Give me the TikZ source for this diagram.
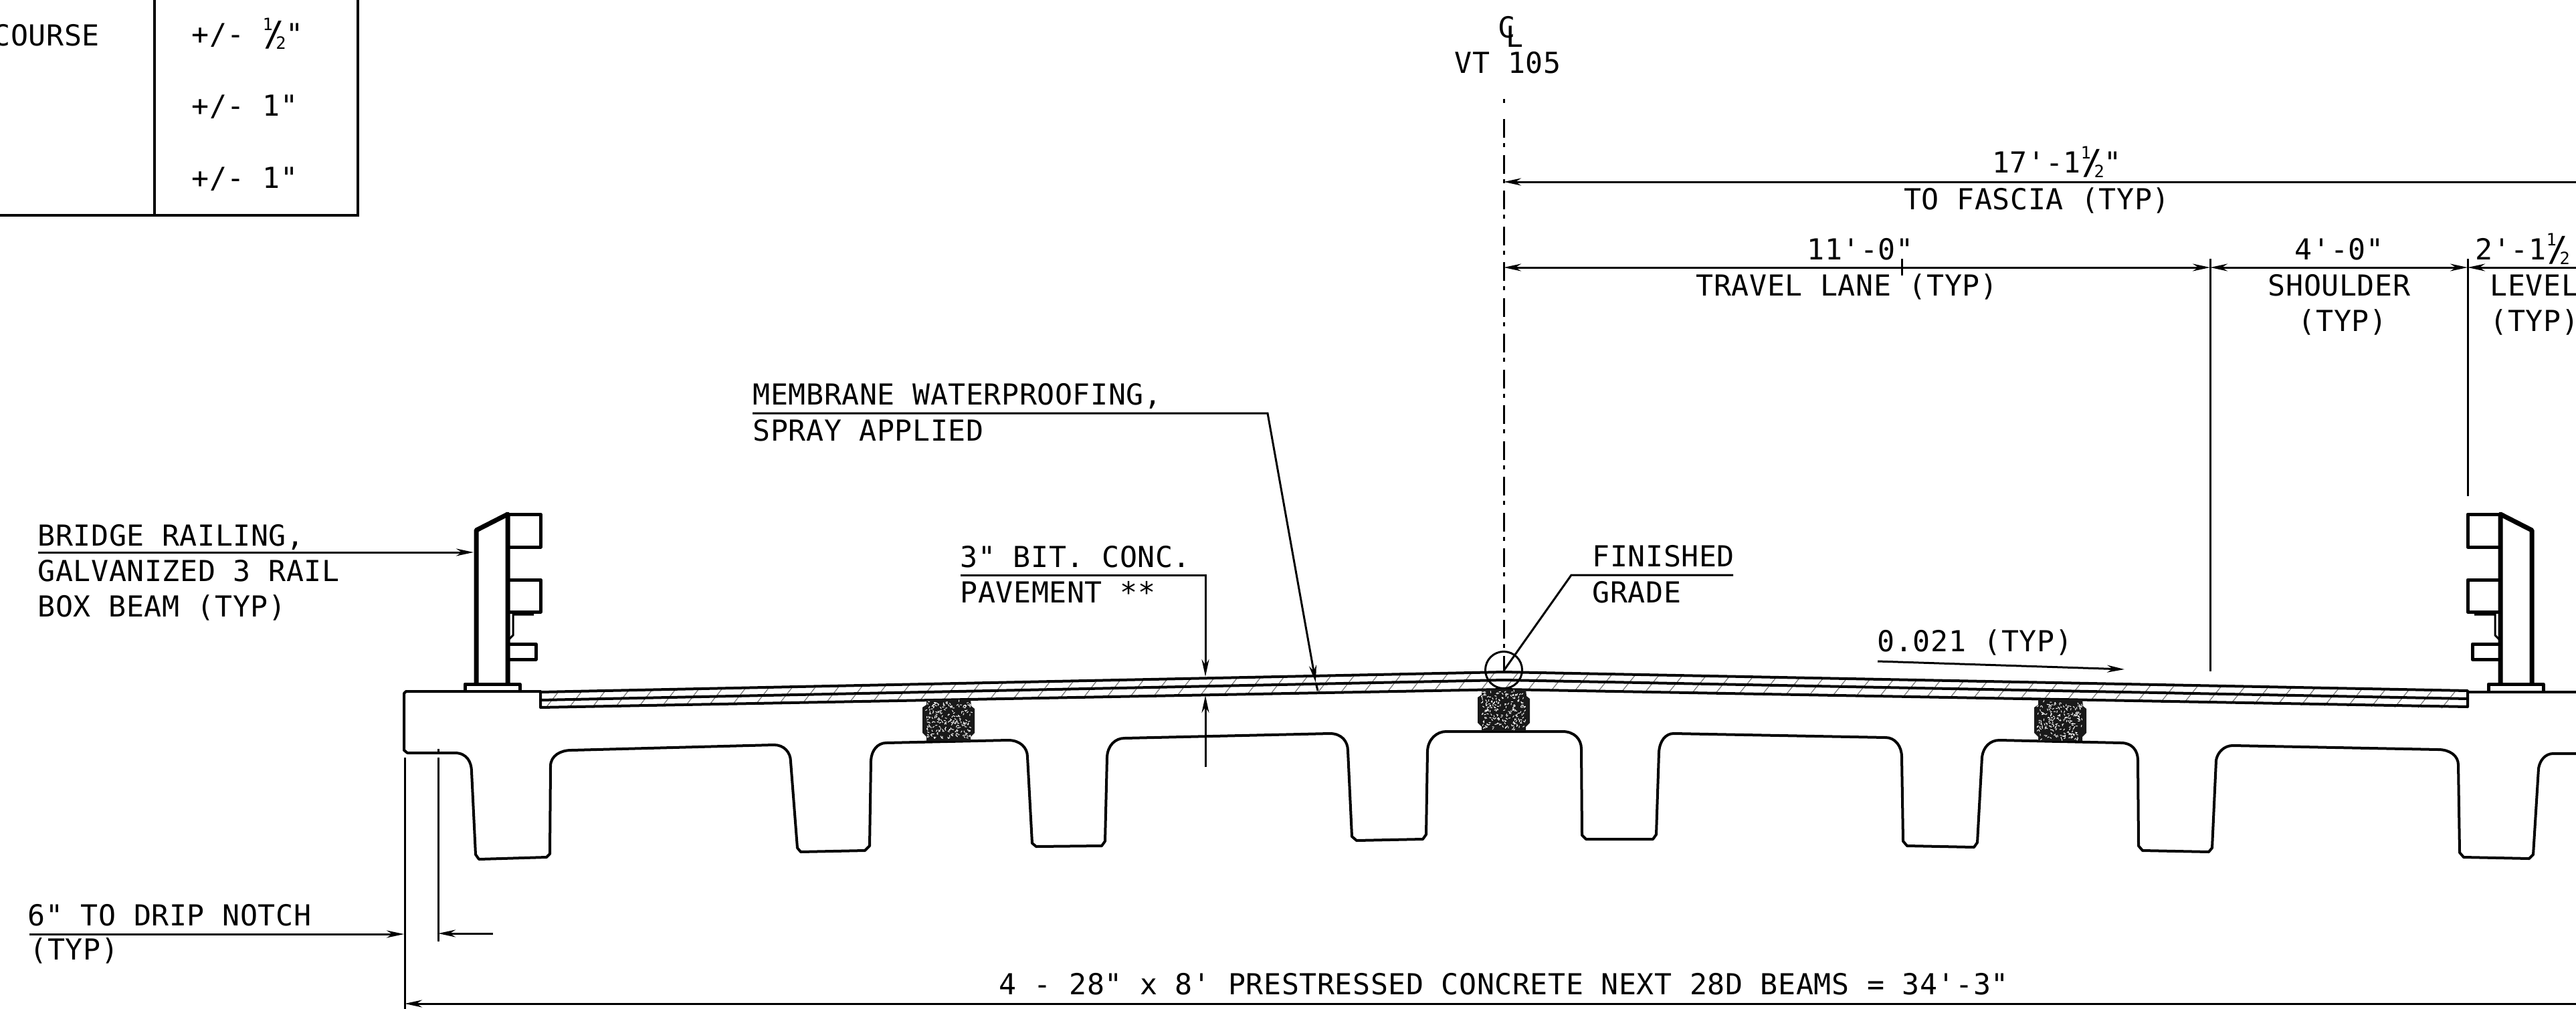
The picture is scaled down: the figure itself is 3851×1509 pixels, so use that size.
\documentclass[tikz,border=0pt]{standalone}
\usepackage{fontspec}
\setmonofont[LetterSpace=1.3]{DejaVu Sans Mono}
\usetikzlibrary{arrows.meta}
\tikzset{
  note/.style={inner sep=0pt,anchor=base west,font=\ttfamily\fontsize{12.3}{15}\selectfont},
  notemid/.style={note,anchor=base},
  thinline/.style={line width=0.03cm},
  leader/.style={line width=0.03cm,-{Stealth[length=0.26cm,width=0.11cm]}},
  dimline/.style={line width=0.03cm,{Stealth[length=0.26cm,width=0.11cm]}-{Stealth[length=0.26cm,width=0.11cm]}},
  leftdim/.style={line width=0.03cm,{Stealth[length=0.26cm,width=0.11cm]}-},
  beamline/.style={line width=0.04cm,line join=round},
  layerline/.style={line width=0.04cm,line join=round},
  railline/.style={line width=0.05cm,line join=round},
  postline/.style={line width=0.07cm,line join=round},
  hatchline/.style={line width=0.012cm,black!55},
  declare function={topy(\x)=1005+0.0208*abs(\x-2248);}
}
% stacked one half, as large as the line of text
\newcommand{\halfmark}{\hbox to 10pt{%
  \rlap{\raisebox{5.7pt}{\fontsize{7.2}{8}\selectfont 1}}\hfil
  \raisebox{-0.7pt}{\fontsize{14.5}{15}\selectfont /}\hfil
  \llap{\raisebox{-2pt}{\fontsize{7.2}{8}\selectfont 2}}}}
% one railing post, drawn at the left fascia
\newcommand{\bridgerail}{%
  \draw[railline] (695,1034) -- (695,1023) -- (777,1023) -- (777,1034);
  \draw[postline] (712,1023) -- (712,793) -- (759,769) -- (759,1023);
  \draw[railline] (759,769) -- (808,769) -- (808,818) -- (759,818);
  \draw[railline] (759,867) -- (808,867) -- (808,915) -- (759,915);
  \draw[thinline] (798,919) -- (767,919) -- (767,950) -- (761,956);
  \draw[railline] (759,963) -- (801,963) -- (801,986) -- (759,986);
}
% stippled block between two beams
\newcommand{\keyblock}[2]{%
  \begin{scope}[shift={(#1,#2)}]
    \path[fill=black!90] (-33,0) -- (33,0) -- (34,10) -- (39,14) -- (39,50) -- (33,56) -- (33,62) -- (-33,62) -- (-33,56) -- (-39,50) -- (-39,12) -- (-33,8) -- cycle;
    \foreach \i in {1,...,200}{
      \pgfmathsetmacro{\px}{-33+rnd*66}
      \pgfmathsetmacro{\py}{3+rnd*56}
      \pgfmathsetmacro{\pa}{rnd*360}
      \draw[white,line width=0.01cm] (\px,\py) -- ++(\pa:3);
    }
  \end{scope}
}
\begin{document}
\begin{tikzpicture}[x=0.01cm,y=-0.01cm]
  \pgfmathsetseed{105}
  \useasboundingbox[fill=white] (0,0) rectangle (3851,1509);

  % tolerance table
  \draw[line width=0.04cm] (231,0) -- (231,322);
  \draw[line width=0.04cm] (535,0) -- (535,322) -- (0,322);
  \node[note] (courselabel) at (-11,68) {COURSE};
  \node[note] (tolone) at (286,66) {+/- \halfmark"};
  \node[note] (toltwo) at (286,173) {+/- 1"};
  \node[note] (tolthree) at (286,281) {+/- 1"};

  % center line
  \node[note] (cllabel) at (2239,57) {C\kern-0.32em\raisebox{-3.7pt}{L}};
  \node[notemid] (vtlabel) at (2254,110) {VT 105};
  \coordinate (clhead) at (2248,178);
  \coordinate (clfoot) at (2248,1003);
  \draw[thinline] (2248,148) -- (2248,154);
  \draw[thinline,dash pattern=on 0.28cm off 0.08cm on 0.06cm off 0.115cm] (clhead) -- (clfoot);

  % overall dimensions
  \coordinate (fasciaend) at (3851,272);
  \coordinate (clfascia) at (2248,272);
  \draw[leftdim] (clfascia) -- (fasciaend);
  \node[notemid] (fasciadim) at (3075,258) {17'-1\halfmark"};
  \node[notemid] (fasciatext) at (3045,313) {TO FASCIA (TYP)};

  \coordinate (dimlane) at (2248,400);
  \coordinate (dimshoulder) at (3304,400);
  \coordinate (dimlevel) at (3689,400);
  \coordinate (dimedge) at (3851,400);
  \draw[dimline] (dimlane) -- (dimshoulder);
  \draw[dimline] (dimshoulder) -- (dimlevel);
  \draw[leftdim] (dimlevel) -- (dimedge);
  \draw[thinline] (2843,387) -- (2843,412);
  \draw[thinline] (3304,387) -- (3304,1004);
  \draw[thinline] (3689,387) -- (3689,742);
  \node[notemid] (lanedim) at (2781,388) {11'-0"};
  \node[notemid] (lanetext) at (2761,442) {TRAVEL LANE (TYP)};
  \node[notemid] (shoulderdim) at (3497,388) {4'-0"};
  \node[notemid] (shouldertext) at (3497,442) {SHOULDER};
  \node[notemid] (shouldertyp) at (3502,495) {(TYP)};
  \node[note] (leveldim) at (3700,388) {2'-1\halfmark};
  \node[note] (leveltext) at (3722,442) {LEVEL};
  \node[note] (leveltyp) at (3722,495) {(TYP)};

  % beams
  \draw[beamline] (809,1034) -- (607,1034) -- (604,1037) -- (604,1122) -- (609,1126) -- (680,1126)
    .. controls (698,1126) and (705,1140) .. (705,1154) -- (711,1278) -- (716,1285) -- (817,1282) -- (822,1277) -- (823,1146)
    .. controls (823,1130) and (838,1122) .. (854,1122) -- (1157,1114)
    .. controls (1172,1114) and (1182,1125) .. (1182,1139) -- (1192,1268) -- (1197,1274) -- (1293,1272) -- (1300,1265) -- (1302,1137)
    .. controls (1303,1122) and (1312,1111) .. (1325,1111) -- (1507,1107)
    .. controls (1525,1107) and (1536,1118) .. (1536,1132) -- (1543,1261) -- (1549,1266) -- (1647,1265) -- (1652,1258) -- (1655,1132)
    .. controls (1656,1115) and (1667,1104) .. (1681,1104) -- (1988,1097)
    .. controls (2005,1097) and (2015,1108) .. (2015,1123) -- (2021,1251) -- (2028,1257) -- (2127,1255) -- (2132,1248) -- (2134,1123)
    .. controls (2135,1105) and (2148,1094) .. (2162,1094) -- (2336,1094)
    .. controls (2353,1094) and (2364,1105) .. (2364,1120) -- (2365,1249) -- (2371,1255) -- (2471,1255) -- (2476,1248) -- (2480,1125)
    .. controls (2481,1108) and (2490,1097) .. (2502,1097) -- (2819,1103)
    .. controls (2833,1103) and (2843,1116) .. (2843,1132) -- (2845,1258) -- (2851,1265) -- (2951,1267) -- (2956,1260) -- (2963,1132)
    .. controls (2965,1117) and (2975,1107) .. (2989,1107) -- (3171,1111)
    .. controls (3187,1111) and (3196,1122) .. (3196,1137) -- (3197,1265) -- (3203,1272) -- (3302,1274) -- (3307,1268) -- (3313,1137)
    .. controls (3315,1125) and (3325,1115) .. (3338,1115) -- (3645,1121)
    .. controls (3662,1121) and (3675,1130) .. (3675,1144) -- (3677,1275) -- (3683,1282) -- (3781,1284) -- (3787,1278) -- (3795,1149)
    .. controls (3797,1137) and (3805,1127) .. (3817,1127) -- (3851,1127);
  \draw[beamline] (3689,1035) -- (3851,1035);

  % overlay and pavement layers
  \foreach \hx in {815,850,...,3670}{
    \draw[hatchline] (\hx,{topy(\hx)+25}) -- ({\hx+20},{topy(\hx+20)});
  }
  \draw[layerline] (808,1035) -- (2248,1005) -- (3689,1033) -- (3689,1057) -- (2248,1031) -- (808,1058) -- cycle;
  \draw[layerline] (808,1047) -- (2248,1017) -- (3689,1045);
  \keyblock{1418}{1046}
  \keyblock{2248}{1031}
  \keyblock{3080}{1046}

  % railings
  \bridgerail
  \begin{scope}[shift={(4497,0)},xscale=-1]
    \bridgerail
  \end{scope}

  % notes on the left
  \node[note] (railone) at (56,816) {BRIDGE RAILING,};
  \node[note] (railtwo) at (56,869) {GALVANIZED 3 RAIL};
  \node[note] (railthree) at (56,922) {BOX BEAM (TYP)};
  \coordinate (railstart) at (57,826);
  \coordinate (railtip) at (708,826);
  \draw[leader] (railstart) -- (railtip);

  \node[note] (dripone) at (41,1384) {6" TO DRIP NOTCH};
  \node[note] (driptwo) at (44,1435) {(TYP)};
  \coordinate (dripstart) at (44,1397);
  \coordinate (dripouter) at (604,1397);
  \coordinate (dripinner) at (655,1396);
  \coordinate (dripend) at (737,1396);
  \draw[leader] (dripstart) -- (dripouter);
  \draw[leader] (dripend) -- (dripinner);
  \draw[thinline] (605,1133) -- (605,1509);
  \draw[thinline] (655,1133) -- (655,1408);
  \draw[thinline] (655,1120) -- (655,1126);

  % notes at the deck
  \node[note] (membraneone) at (1125,605) {MEMBRANE WATERPROOFING,};
  \node[note] (membranetwo) at (1125,659) {SPRAY APPLIED};
  \coordinate (membranestart) at (1125,618);
  \coordinate (membranebend) at (1895,618);
  \coordinate (membranetip) at (1967,1021);
  \coordinate (membraneend) at (1970,1033);
  \draw[leader] (membranestart) -- (membranebend) -- (membranetip);
  \draw[thinline] (membranetip) -- (membraneend);

  \node[note] (paveone) at (1435,848) {3" BIT. CONC.};
  \node[note] (pavetwo) at (1435,901) {PAVEMENT **};
  \coordinate (pavestart) at (1436,860);
  \coordinate (pavebend) at (1802,860);
  \coordinate (pavetip) at (1802,1012);
  \coordinate (paveunder) at (1802,1040);
  \coordinate (pavefoot) at (1802,1147);
  \draw[leader] (pavestart) -- (pavebend) -- (pavetip);
  \draw[leader] (pavefoot) -- (paveunder);

  \node[note] (gradeone) at (2380,847) {FINISHED};
  \node[note] (gradetwo) at (2380,901) {GRADE};
  \coordinate (gradeend) at (2591,860);
  \coordinate (gradebend) at (2349,860);
  \draw[thinline] (gradeend) -- (gradebend) -- (clfoot);
  \node[draw,circle,line width=0.03cm,minimum size=0.55cm,inner sep=0pt] (gradecircle) at (2248,1002) {};

  \node[note] (slopetext) at (2806,974) {0.021 (TYP)};
  \coordinate (slopestart) at (2807,989);
  \coordinate (slopeend) at (3176,1001);
  \draw[leader] (slopestart) -- (slopeend);

  % beam width along the bottom
  \node[notemid] (beamtext) at (2248,1487) {4 - 28" x 8' PRESTRESSED CONCRETE NEXT 28D BEAMS = 34'-3"};
  \coordinate (beamleft) at (605,1501);
  \coordinate (beamright) at (3851,1501);
  \draw[leftdim] (beamleft) -- (beamright);
\end{tikzpicture}
\end{document}
